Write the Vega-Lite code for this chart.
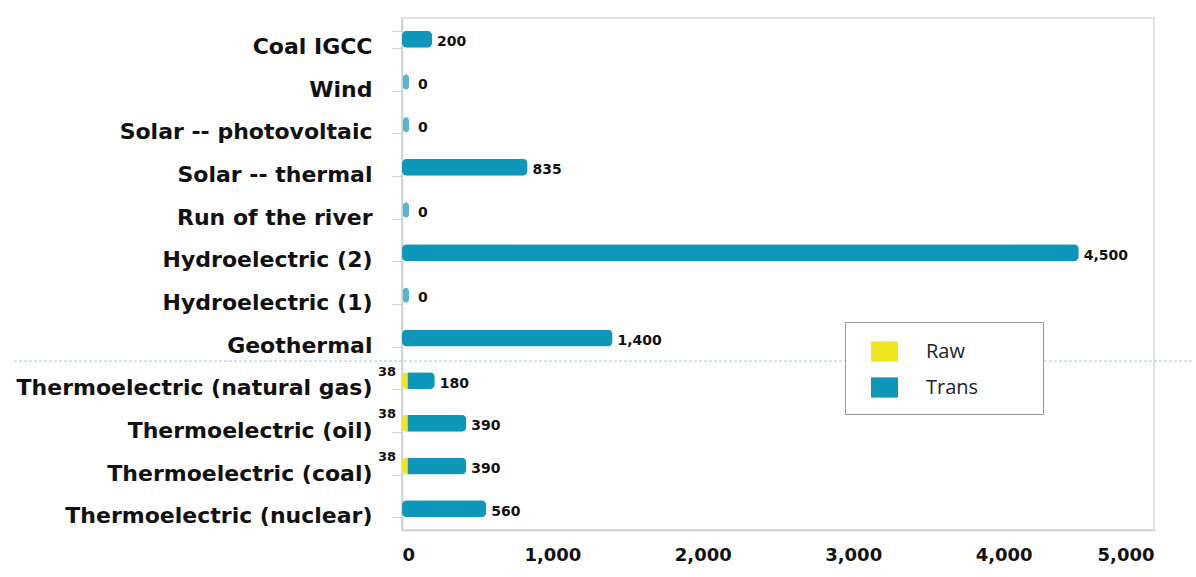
{
  "$schema": "https://vega.github.io/schema/vega-lite/v6.json",
  "autosize": "none",
  "width": 752,
  "height": 512,
  "padding": {"left": 402, "top": 18, "right": 42, "bottom": 47},
  "background": "white",
  "datasets": {
    "bars": [
      {"cat": "Coal IGCC", "type": "Trans", "value": 200},
      {"cat": "Wind", "type": "Trans", "value": 0},
      {"cat": "Solar -- photovoltaic", "type": "Trans", "value": 0},
      {"cat": "Solar -- thermal", "type": "Trans", "value": 835},
      {"cat": "Run of the river", "type": "Trans", "value": 0},
      {"cat": "Hydroelectric (2)", "type": "Trans", "value": 4500},
      {"cat": "Hydroelectric (1)", "type": "Trans", "value": 0},
      {"cat": "Geothermal", "type": "Trans", "value": 1400},
      {"cat": "Thermoelectric (natural gas)", "type": "Raw", "value": 38},
      {"cat": "Thermoelectric (natural gas)", "type": "Trans", "value": 180},
      {"cat": "Thermoelectric (oil)", "type": "Raw", "value": 38},
      {"cat": "Thermoelectric (oil)", "type": "Trans", "value": 390},
      {"cat": "Thermoelectric (coal)", "type": "Raw", "value": 38},
      {"cat": "Thermoelectric (coal)", "type": "Trans", "value": 390},
      {"cat": "Thermoelectric (nuclear)", "type": "Trans", "value": 560}
    ]
  },
  "data": {"name": "bars"},
  "encoding": {
    "y": {
      "field": "cat",
      "type": "nominal",
      "sort": [
        "Coal IGCC", "Wind", "Solar -- photovoltaic", "Solar -- thermal",
        "Run of the river", "Hydroelectric (2)", "Hydroelectric (1)", "Geothermal",
        "Thermoelectric (natural gas)", "Thermoelectric (oil)",
        "Thermoelectric (coal)", "Thermoelectric (nuclear)"
      ],
      "title": null,
      "scale": {"paddingInner": 0.6, "paddingOuter": 0.3},
      "axis": {
        "labelFont": "DejaVu Sans",
        "labelFontWeight": "bold",
        "labelFontSize": 22,
        "labelColor": "#111111",
        "labelPadding": 20,
        "labelLimit": 420,
        "labelOffset": 7,
        "domainColor": "#cfcfcf",
        "domainWidth": 1.5,
        "tickColor": "#cfcfcf",
        "tickSize": 10,
        "tickBand": "extent",
        "grid": false
      }
    }
  },
  "layer": [
    {
      "data": {"values": [{"cat": "Geothermal"}]},
      "mark": {"type": "rule", "color": "#9cc9da", "strokeDash": [3, 2], "strokeWidth": 1, "clip": false},
      "encoding": {
        "y": {"field": "cat", "type": "nominal", "bandPosition": 1.85},
        "x": {"datum": -2580},
        "x2": {"datum": 5250}
      }
    },
    {
      "mark": {"type": "bar", "cornerRadius": 5},
      "encoding": {
        "x": {
          "field": "value",
          "type": "quantitative",
          "stack": "zero",
          "title": null,
          "scale": {"domain": [0, 5000], "nice": false},
          "axis": {
            "values": [0, 1000, 2000, 3000, 4000, 5000],
            "labelExpr": "format(datum.value, ',')",
            "labelFont": "DejaVu Sans",
            "labelFontWeight": "bold",
            "labelFontSize": 18,
            "labelColor": "#111111",
            "labelPadding": 16,
            "domainColor": "#cfcfcf",
            "domainWidth": 1.5,
            "ticks": false,
            "gridColor": "#d9d9d9",
            "gridWidth": 1.5
          }
        },
        "color": {
          "field": "type",
          "type": "nominal",
          "scale": {"domain": ["Raw", "Trans"], "range": ["#f2e41e", "#0f97b9"]},
          "legend": {
            "title": "x",
            "titleOrient": "right",
            "titleColor": "white",
            "titlePadding": 42,
            "titleFontSize": 12,
            "orient": "none",
            "legendX": 443,
            "legendY": 304,
            "symbolType": "M-1,-0.75H1V0.75H-1Z",
            "symbolSize": 729,
            "symbolStrokeWidth": 0,
            "symbolOffset": 10,
            "labelFont": "Open Sans",
            "labelFontSize": 20,
            "labelColor": "#222222",
            "labelOffset": 28,
            "rowPadding": 12,
            "strokeColor": "#9a9a9a",
            "padding": 16,
            "fillColor": "white"
          }
        }
      }
    },
    {
      "transform": [{"filter": "datum.value == 0"}],
      "mark": {"type": "tick", "orient": "vertical", "thickness": 6, "size": 15, "cornerRadius": 3, "color": "#0f97b9", "xOffset": 4},
      "encoding": {
        "x": {"field": "value", "type": "quantitative"}
      }
    },
    {
      "mark": {
        "type": "text",
        "align": "left",
        "baseline": "middle",
        "dx": 5,
        "dy": 3,
        "font": "DejaVu Sans",
        "fontWeight": "bold",
        "fontSize": 14,
        "color": "#111111"
      },
      "encoding": {
        "x": {"field": "value", "type": "quantitative", "stack": "zero"},
        "text": {"field": "value", "type": "quantitative", "format": ","},
        "opacity": {"condition": {"test": "datum.type == 'Raw' || datum.value == 0", "value": 0}, "value": 1}
      }
    },
    {
      "transform": [{"filter": "datum.value == 0"}],
      "mark": {
        "type": "text",
        "align": "left",
        "baseline": "middle",
        "dx": 16,
        "dy": 3,
        "font": "DejaVu Sans",
        "fontWeight": "bold",
        "fontSize": 14,
        "color": "#111111"
      },
      "encoding": {
        "x": {"field": "value", "type": "quantitative"},
        "text": {"field": "value", "type": "quantitative"}
      }
    },
    {
      "transform": [{"filter": "datum.type == 'Raw'"}],
      "mark": {
        "type": "text",
        "align": "right",
        "baseline": "middle",
        "dx": -6,
        "dy": -9,
        "font": "DejaVu Sans",
        "fontWeight": "bold",
        "fontSize": 13,
        "color": "#111111"
      },
      "encoding": {
        "x": {"datum": 0},
        "text": {"field": "value", "type": "quantitative"}
      }
    }
  ],
  "config": {
    "view": {"stroke": "#d9d9d9", "strokeWidth": 1.5}
  }
}
